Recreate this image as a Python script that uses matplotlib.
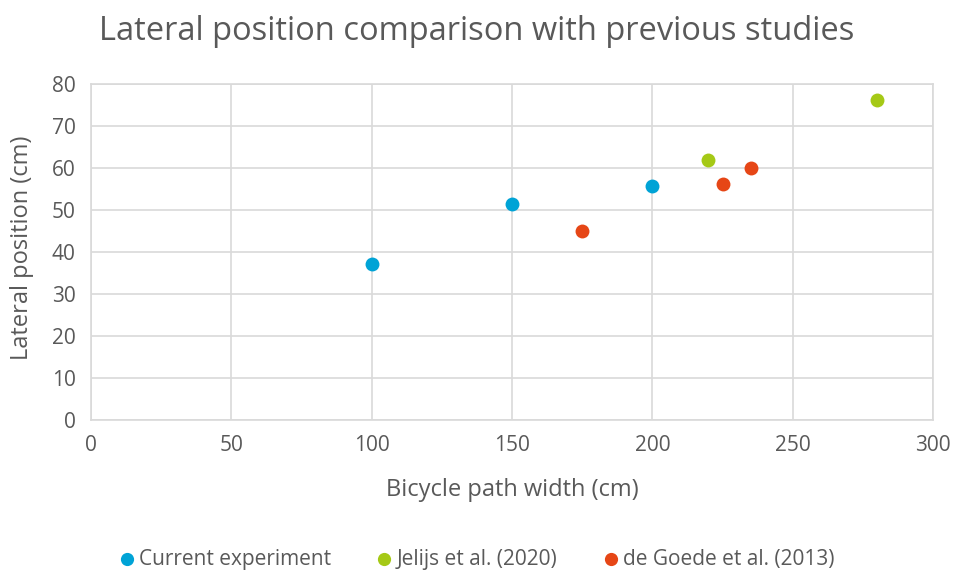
import matplotlib.pyplot as plt

# series data
cur_x = [100, 150, 200]
cur_y = [37.2, 51.4, 55.7]
jel_x = [220, 280]
jel_y = [61.9, 76.1]
goe_x = [175, 225, 235]
goe_y = [45.1, 56.2, 60.1]

xticks = [0, 50, 100, 150, 200, 250, 300]
yticks = [0, 10, 20, 30, 40, 50, 60, 70, 80]

plt.rcParams['font.family'] = ['Open Sans', 'DejaVu Sans']
txt = '#595959'
grid = '#d9d9d9'

fig = plt.figure(figsize=(9.54, 5.72), dpi=100)
ax = fig.add_axes([0.0954, 0.2657, 0.8826, 0.5873])

ax.scatter(cur_x, cur_y, s=100, color='#00a3d6', label='Current experiment', zorder=3, linewidths=0)
ax.scatter(jel_x, jel_y, s=100, color='#a5c916', label='Jelijs et al. (2020)', zorder=3, linewidths=0)
ax.scatter(goe_x, goe_y, s=100, color='#e64616', label='de Goede et al. (2013)', zorder=3, linewidths=0)

ax.set_xlim(0, 300)
ax.set_ylim(0, 80)
ax.set_xticks(xticks)
ax.set_yticks(yticks)
ax.grid(True, color=grid, linewidth=1.2)
ax.set_axisbelow(True)
for sp in ax.spines.values():
    sp.set_color(grid)
    sp.set_linewidth(1.2)
ax.tick_params(length=0, labelsize=15, colors=txt)
ax.tick_params(axis='x', pad=11)
ax.tick_params(axis='y', pad=11)

# titles and axis labels placed on the figure
fig.text(0.5, 1 - 32 / 572, 'Lateral position comparison with previous studies',
         fontsize=23.5, color=txt, ha='center', va='center')
fig.text(512 / 954, 1 - 490 / 572, 'Bicycle path width (cm)',
         fontsize=17, color=txt, ha='center', va='center')
fig.text(22 / 954, 1 - 248 / 572, 'Lateral position (cm)',
         fontsize=17, color=txt, ha='center', va='center', rotation=90)

leg = fig.legend(loc='center', bbox_to_anchor=(0.5, 1 - 559 / 572), ncol=3, frameon=False,
                 fontsize=15, handlelength=0.7, handletextpad=0.25, columnspacing=2.2,
                 markerscale=0.95)
for t in leg.get_texts():
    t.set_color(txt)

fig.savefig('out.png', dpi=100)
